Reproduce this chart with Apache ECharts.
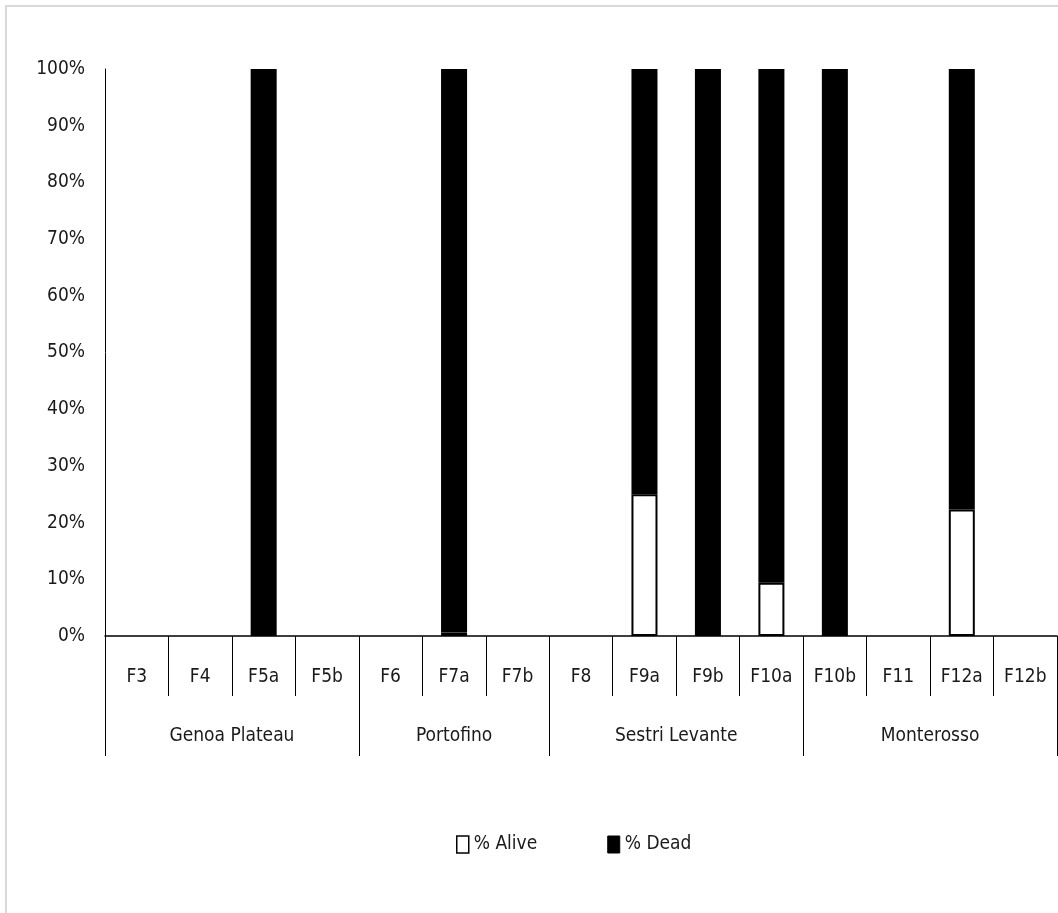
<!DOCTYPE html>
<html>
<head>
<meta charset="utf-8">
<script src="https://cdn.jsdelivr.net/npm/echarts@6/dist/echarts.min.js"></script>
<style>
  html, body { margin: 0; padding: 0; background: #fff; overflow: hidden; }
  #frame { position: absolute; left: 5px; top: 5px; width: 1100px; height: 1000px; border: 2px solid #d9d9d9; box-sizing: border-box; }
  #chart { position: absolute; left: 0; top: 0; width: 1058px; height: 913px; }
</style>
</head>
<body>
<div id="frame"></div>
<div id="chart"></div>
<script>
const categories = ['F3','F4','F5a','F5b','F6','F7a','F7b','F8','F9a','F9b','F10a','F10b','F11','F12a','F12b'];
const groups = ['Genoa Plateau','Portofino','Sestri Levante','Monterosso'];
const groupSizes = [4, 3, 4, 4];
const alive = [0, 0, 0, 0, 0, 0.6, 0, 0, 25, 0, 9.4, 0, 0, 22.3, 0];
const dead  = [0, 0, 100, 0, 0, 99.4, 0, 0, 75, 100, 90.6, 100, 0, 77.7, 0];

const FONT = '"Liberation Sans Narrow", "DejaVu Sans Condensed", "Liberation Sans", sans-serif';
const FS = 19;
const TXT = '#1a1a1a';

// group boundaries and centers derived from group sizes
const bounds = [0];
groupSizes.forEach(s => bounds.push(bounds[bounds.length - 1] + s));
const centers = groups.map((g, i) => (bounds[i] + bounds[i + 1]) / 2);
const centerName = {};
centers.forEach((c, i) => { centerName[c] = groups[i]; });

// zero values are not drawn (no bar), avoids a stroke on the baseline
const noZero = arr => arr.map(v => (v === 0 ? '-' : v));

const chart = echarts.init(document.getElementById('chart'), null, { renderer: 'canvas' });
chart.setOption({
  animation: false,
  backgroundColor: 'transparent',
  textStyle: { fontFamily: FONT },
  grid: { left: 105, right: 1, top: 69, bottom: 277, containLabel: false },
  legend: {
    left: 451, top: 830,
    itemWidth: 12, itemHeight: 17, itemGap: 70,
    icon: 'rect',
    textStyle: { fontFamily: FONT, fontSize: FS, color: TXT },
    data: [
      { name: '% Alive', itemStyle: { color: '#fff', borderColor: '#000', borderWidth: 1.5 } },
      { name: '% Dead', itemStyle: { color: '#000', borderColor: '#000', borderWidth: 1 } }
    ]
  },
  xAxis: [
    {
      type: 'category',
      data: categories,
      position: 'bottom',
      axisLine: { show: true, lineStyle: { color: '#000', width: 1.5 } },
      axisTick: { show: true, interval: 0, length: 60, lineStyle: { color: '#000', width: 1 } },
      axisLabel: { interval: 0, margin: 32, fontFamily: FONT, fontSize: FS, color: TXT },
      splitLine: { show: false }
    },
    {
      type: 'value',
      min: 0, max: bounds[bounds.length - 1],
      position: 'bottom',
      axisLine: { show: false },
      axisTick: { show: true, length: 120, customValues: bounds, lineStyle: { color: '#000', width: 1 } },
      axisLabel: {
        show: true, margin: 91, customValues: centers,
        fontFamily: FONT, fontSize: FS, color: TXT,
        formatter: v => centerName[v] || ''
      },
      splitLine: { show: false }
    }
  ],
  yAxis: {
    type: 'value',
    min: 0, max: 100, interval: 10,
    axisLine: { show: true, lineStyle: { color: '#000', width: 1 } },
    axisTick: { show: false },
    splitLine: { show: false },
    axisLabel: { margin: 20, fontFamily: FONT, fontSize: FS, color: TXT, formatter: '{value}%' }
  },
  series: [
    {
      name: '% Alive', type: 'bar', stack: 'total', xAxisIndex: 0,
      barWidth: '41%',
      data: noZero(alive),
      itemStyle: { color: '#fff', borderColor: '#000', borderWidth: 2 }
    },
    {
      name: '% Dead', type: 'bar', stack: 'total', xAxisIndex: 0,
      barWidth: '41%',
      data: noZero(dead),
      itemStyle: { color: '#000', borderColor: '#000', borderWidth: 0 }
    }
  ]
});
</script>
</body>
</html>
